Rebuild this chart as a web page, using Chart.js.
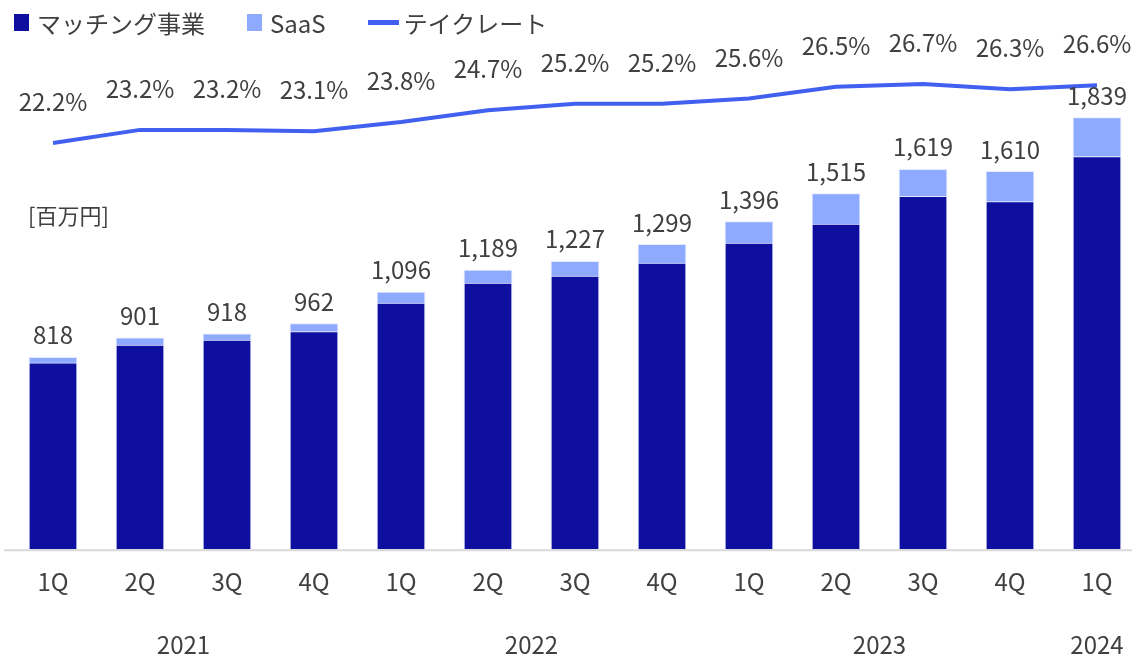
<!DOCTYPE html>
<html lang="ja">
<head>
<meta charset="utf-8">
<script src="https://cdn.jsdelivr.net/npm/chart.js@4/dist/chart.umd.min.js"></script>
<style>
    html, body { margin: 0; padding: 0; background: #fff; overflow: hidden; }
    #wrap { position: relative; width: 1132px; height: 656px; font-family: "Noto Sans CJK JP", "Noto Sans", sans-serif; color: #404040; }
    #legend { position: absolute; left: 14px; top: 5px; display: flex; align-items: center; font-size: 24px; }
    #legend .item { display: flex; align-items: center; margin-right: 42px; }
    #legend .box { width: 15px; height: 17px; margin-right: 8px; }
    #legend .ln { width: 31px; height: 5px; margin-right: 5px; background: #4160f0; }
    #unit { position: absolute; left: 28px; top: 198px; font-size: 22px; }
</style>
</head>
<body>
<div id="wrap">
    <canvas id="salesChart" width="1132" height="656"></canvas>
    <div id="legend">
        <div class="item"><span class="box" style="background:#0f0f9f"></span>マッチング事業</div>
        <div class="item"><span class="box" style="background:#8eaaff"></span>SaaS</div>
        <div class="item"><span class="ln"></span>テイクレート</div>
    </div>
    <div id="unit">[百万円]</div>
</div>
<script>
// quarters and years
const quarters = ['1Q', '2Q', '3Q', '4Q', '1Q', '2Q', '3Q', '4Q', '1Q', '2Q', '3Q', '4Q', '1Q'];
const years = ['2021', '2022', '2023', '2024'];
const yearGroups = [[0, 1, 2, 3], [4, 5, 6, 7], [8, 9, 10, 11], [12]];

// revenue (百万円)
const totals = [818, 901, 918, 962, 1096, 1189, 1227, 1299, 1396, 1515, 1619, 1610, 1839];
const saas = [24, 31, 27, 35, 47, 55, 63, 80, 91, 129, 115, 129, 166];
const matching = totals.map((t, i) => t - saas[i]);

// take rate (%)
const takeRate = [22.2, 23.2, 23.2, 23.1, 23.8, 24.7, 25.2, 25.2, 25.6, 26.5, 26.7, 26.3, 26.6];

const textColor = '#404040';
const fontFamily = '"Noto Sans CJK JP", "Noto Sans", sans-serif';
const labelFont = '24px ' + fontFamily;

// totals above bars, rate above the line, year row under the quarters
const labelPlugin = {
    id: 'labels',
    afterDatasetsDraw(chart) {
        const ctx = chart.ctx;
        const x = chart.scales.x;
        ctx.save();
        ctx.font = labelFont;
        ctx.fillStyle = textColor;
        ctx.textAlign = 'center';
        ctx.textBaseline = 'middle';

        const top = chart.getDatasetMeta(1);
        top.data.forEach((bar, i) => {
            ctx.fillText(totals[i].toLocaleString('en-US'), bar.x, bar.y - 22);
        });

        const line = chart.getDatasetMeta(2);
        line.data.forEach((pt, i) => {
            ctx.fillText(takeRate[i].toFixed(1) + '%', pt.x, pt.y - 41);
        });

        // baseline across the full width
        const y0 = chart.scales.y.getPixelForValue(0);
        ctx.strokeStyle = '#d9d9d9';
        ctx.lineWidth = 2;
        ctx.beginPath();
        ctx.moveTo(4, y0 + 1);
        ctx.lineTo(chart.width, y0 + 1);
        ctx.stroke();

        yearGroups.forEach((g, i) => {
            const cx = g.reduce((s, k) => s + x.getPixelForValue(k), 0) / g.length;
            ctx.fillText(years[i], cx, x.bottom + 31);
        });
        ctx.restore();
    }
};

new Chart(document.getElementById('salesChart').getContext('2d'), {
    data: {
        labels: quarters,
        datasets: [
            {
                type: 'bar',
                label: 'マッチング事業',
                data: matching,
                backgroundColor: '#0f0f9f',
                borderColor: 'rgba(225, 232, 255, 0.9)',
                borderWidth: 1,
                barThickness: 48,
                clip: false,
                yAxisID: 'y',
                order: 2
            },
            {
                type: 'bar',
                label: 'SaaS',
                data: saas,
                backgroundColor: '#8eaaff',
                borderColor: 'rgba(225, 232, 255, 0.9)',
                borderWidth: 1,
                barThickness: 48,
                clip: false,
                yAxisID: 'y',
                order: 2
            },
            {
                type: 'line',
                label: 'テイクレート',
                data: takeRate,
                borderColor: '#4160f0',
                borderWidth: 4,
                pointRadius: 0,
                tension: 0,
                clip: false,
                yAxisID: 'y1',
                order: 1
            }
        ]
    },
    options: {
        responsive: false,
        animation: false,
        layout: { padding: { left: 53, right: 35, top: 40, bottom: 42 } },
        plugins: {
            legend: { display: false },
            tooltip: { enabled: false }
        },
        scales: {
            x: {
                stacked: true,
                offset: false,
                border: { display: false },
                grid: { display: false, drawTicks: false },
                ticks: {
                    color: textColor,
                    font: { family: fontFamily, size: 24 },
                    padding: 18,
                    autoSkip: false,
                    maxRotation: 0
                }
            },
            y: {
                stacked: true,
                display: false,
                min: 0,
                max: 2170
            },
            y1: {
                display: false,
                min: -8.8,
                max: 30.06
            }
        }
    },
    plugins: [labelPlugin]
});
</script>
</body>
</html>
